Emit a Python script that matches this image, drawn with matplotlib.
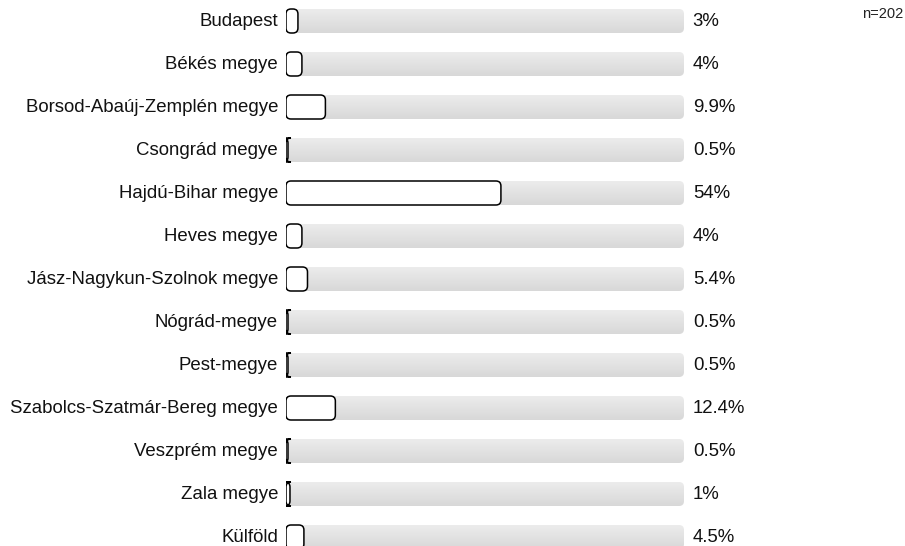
import numpy as np
import matplotlib
matplotlib.use("Agg")
import matplotlib.pyplot as plt
from matplotlib.patches import FancyBboxPatch
from matplotlib.colors import LinearSegmentedColormap

plt.rcParams["font.family"] = ["Liberation Sans", "DejaVu Sans"]

# data
counties = ["Budapest", "Békés megye", "Borsod-Abaúj-Zemplén megye", "Csongrád megye",
            "Hajdú-Bihar megye", "Heves megye", "Jász-Nagykun-Szolnok megye",
            "Nógrád-megye", "Pest-megye", "Szabolcs-Szatmár-Bereg megye",
            "Veszprém megye", "Zala megye", "Külföld"]
shares = [3, 4, 9.9, 0.5, 54, 4, 5.4, 0.5, 0.5, 12.4, 0.5, 1, 4.5]
share_labels = ["3%", "4%", "9.9%", "0.5%", "54%", "4%", "5.4%", "0.5%", "0.5%",
                "12.4%", "0.5%", "1%", "4.5%"]
n_label = "n=202"

W, H = 905, 546
fig = plt.figure(figsize=(W / 100, H / 100), dpi=100)
x0_px, x1_px = 286, 684
row0_px, row_step = 21, 43
ax = fig.add_axes([x0_px / W, 0, (x1_px - x0_px) / W, 1])
ax.axis("off")

xu = 100 / (x1_px - x0_px)          # data x per pixel
yu = 1 / row_step                   # data y per pixel
aspect = yu / xu
bh = 24 * yu
rad = 5 * xu
gcmap = LinearSegmentedColormap.from_list("g", ["#ececec", "#d8d8d8"])

grad = np.linspace(0, 1, 64).reshape(-1, 1)
for i, (name, v, lab) in enumerate(zip(counties, shares, share_labels)):
    # grey track with vertical gradient
    track = FancyBboxPatch((0, i - bh / 2), 100, bh,
                           boxstyle=f"round,pad=0,rounding_size={rad}",
                           mutation_aspect=aspect, fc="none", ec="none")
    ax.add_patch(track)
    im = ax.imshow(grad, cmap=gcmap, extent=(0, 100, i + bh / 2, i - bh / 2),
                   aspect="auto", interpolation="bicubic", zorder=1)
    im.set_clip_path(track)
    # value bar (white, rounded, black outline); corner radius not clamped,
    # so tiny bars get the I-beam look of the original
    ax.add_patch(FancyBboxPatch((0, i - bh / 2), v, bh,
                                boxstyle=f"round,pad=0,rounding_size={rad}",
                                mutation_aspect=aspect, fc="white", ec="black",
                                lw=1.1, zorder=3))
    ax.text(-2.0, i + 0.02, name, ha="right", va="center", fontsize=13.4, color="#111111")
    ax.text(102.2, i + 0.02, lab, ha="left", va="center", fontsize=13.4, color="#111111")

ax.set_xlim(0, 100)
ax.set_ylim((H - row0_px) / row_step, -row0_px / row_step)
fig.text(883 / W, 1 - 14 / H, n_label, ha="center", va="center", fontsize=10.5, color="#222222")

fig.savefig("out.png", dpi=100)
